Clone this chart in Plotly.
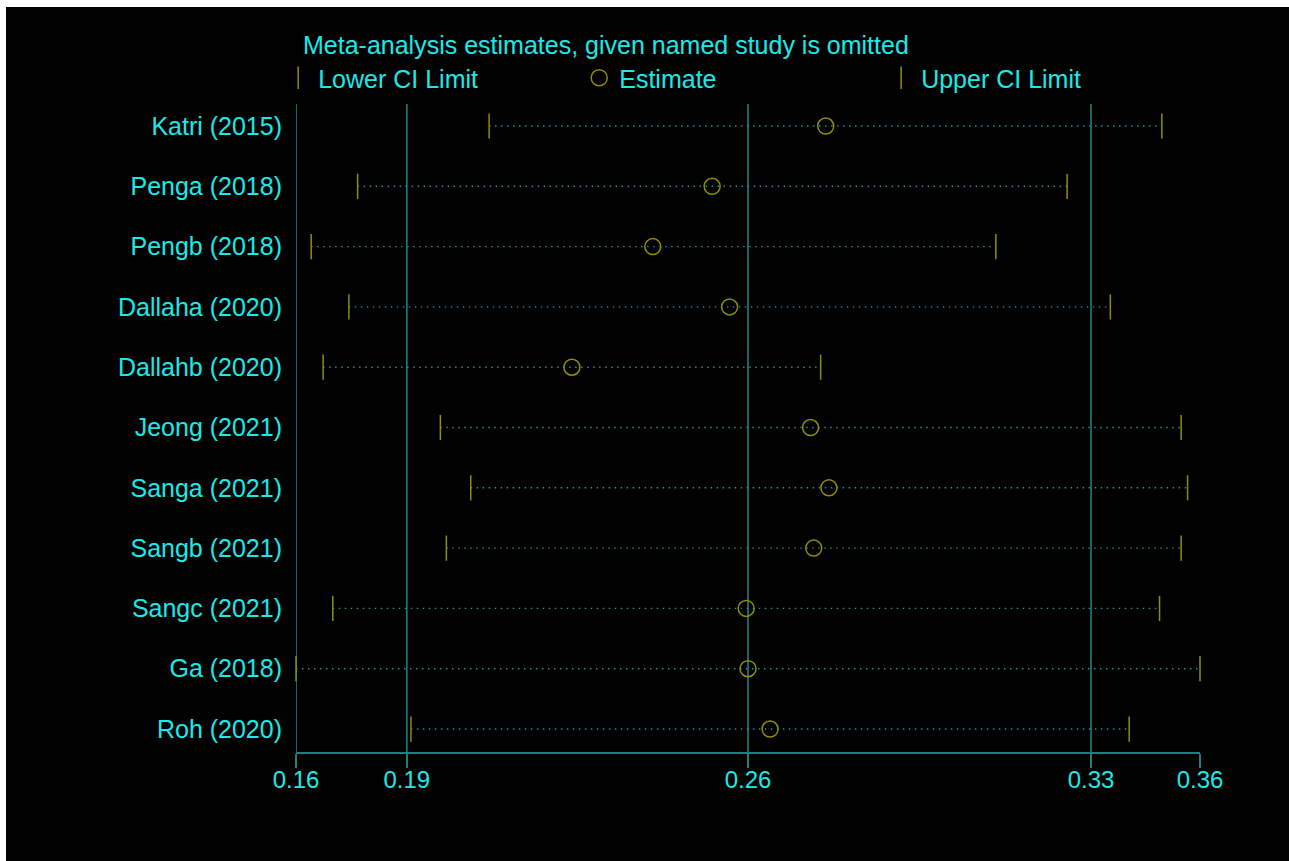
import plotly.graph_objects as go

# ---- data ----
studies = ["Katri (2015)", "Penga (2018)", "Pengb (2018)", "Dallaha (2020)",
           "Dallahb (2020)", "Jeong (2021)", "Sanga (2021)", "Sangb (2021)",
           "Sangc (2021)", "Ga (2018)", "Roh (2020)"]
lower = [0.2037, 0.1751, 0.1650, 0.1732, 0.1676, 0.1931, 0.1997, 0.1944, 0.1697, 0.1617, 0.1867]
estimate = [0.2769, 0.2522, 0.2393, 0.2560, 0.2217, 0.2736, 0.2776, 0.2743, 0.2596, 0.2600, 0.2648]
upper = [0.3500, 0.3294, 0.3139, 0.3388, 0.2758, 0.3542, 0.3556, 0.3542, 0.3495, 0.3583, 0.3429]
overall_ci = [0.1858, 0.2600, 0.3346]   # full-analysis lower CI, estimate, upper CI

title_text = "Meta-analysis estimates, given named study is omitted"
legend_names = ["Lower CI Limit", "Estimate", "Upper CI Limit"]

# ---- styles ----
BG = "black"
TXT = "#1aeaea"
TEAL = "#1d7f80"
DOT = "#1f9a9a"
OLIVE = "#8f8f05"
FONT = "Liberation Sans, Arial, sans-serif"
FS = 25

ypos = list(range(1, len(studies) + 1))
xmin, xmax = min(lower), max(upper)

fig = go.Figure()

# dotted connecting lines
lx, ly = [], []
for lo, hi, y in zip(lower, upper, ypos):
    lx += [lo, hi, None]
    ly += [y, y, None]
fig.add_trace(go.Scatter(x=lx, y=ly, mode="lines", showlegend=False, hoverinfo="skip",
                         line=dict(color=DOT, width=1.4, dash="1.4px,4.6px")))

marker_line = dict(color=OLIVE, width=1.5)
fig.add_trace(go.Scatter(x=lower, y=ypos, mode="markers", name=legend_names[0], legend="legend",
                         cliponaxis=False,
                         marker=dict(symbol="line-ns", size=18, color=OLIVE, line=marker_line)))
fig.add_trace(go.Scatter(x=estimate, y=ypos, mode="markers", name=legend_names[1], legend="legend2",
                         cliponaxis=False,
                         marker=dict(symbol="circle-open", size=16, color=OLIVE, line=marker_line)))
fig.add_trace(go.Scatter(x=upper, y=ypos, mode="markers", name=legend_names[2], legend="legend3",
                         cliponaxis=False,
                         marker=dict(symbol="line-ns", size=18, color=OLIVE, line=marker_line)))

# vertical reference lines (range minimum + full-analysis CI and estimate)
for v in [xmin] + overall_ci:
    fig.add_shape(type="line", xref="x", yref="paper", x0=v, x1=v, y0=0, y1=1,
                  line=dict(color=TEAL, width=1.6), layer="below")

W, H = 1283, 854
L, R, T, B = 290, 89, 97, 109

def legend_cfg(x):
    return dict(x=x, xref="paper", xanchor="left", y=1 - 71 / H, yref="container",
                yanchor="middle", orientation="h", bgcolor="rgba(0,0,0,0)",
                font=dict(family=FONT, size=FS, color=TXT), itemclick=False)

fig.update_layout(
    width=W, height=H,
    margin=dict(l=L, r=R, t=T, b=B, autoexpand=False),
    paper_bgcolor=BG, plot_bgcolor=BG,
    font=dict(family=FONT, size=FS, color=TXT),
    title=dict(text=title_text, x=7 / (W - L - R), xref="paper", xanchor="left",
               y=1 - 38 / H, yref="container", yanchor="middle",
               font=dict(family=FONT, size=FS, color=TXT)),
    legend=legend_cfg(-0.0197),
    legend2=legend_cfg(0.3133),
    legend3=legend_cfg(0.6473),
    xaxis=dict(range=[xmin, xmax], autorange=False, showgrid=False, zeroline=False,
               showline=True, linecolor=TEAL, linewidth=2,
               tickvals=[xmin] + overall_ci + [xmax], tickformat=".2f",
               ticks="outside", ticklen=14, tickwidth=1.6, tickcolor=TEAL,
               ticklabelstandoff=-9,
               tickfont=dict(family=FONT, size=24, color=TXT)),
    yaxis=dict(range=[len(studies) + 0.381, 0.635], autorange=False, showgrid=False,
               zeroline=False, showline=False, tickvals=ypos, ticktext=studies,
               ticks="outside", ticklen=8, tickcolor="rgba(0,0,0,0)",
               tickfont=dict(family=FONT, size=FS, color=TXT)),
)

fig.write_html("out.html",
               post_script="document.body.style.margin='7px 0 0 6px';"
                           "document.body.style.overflow='hidden';")
